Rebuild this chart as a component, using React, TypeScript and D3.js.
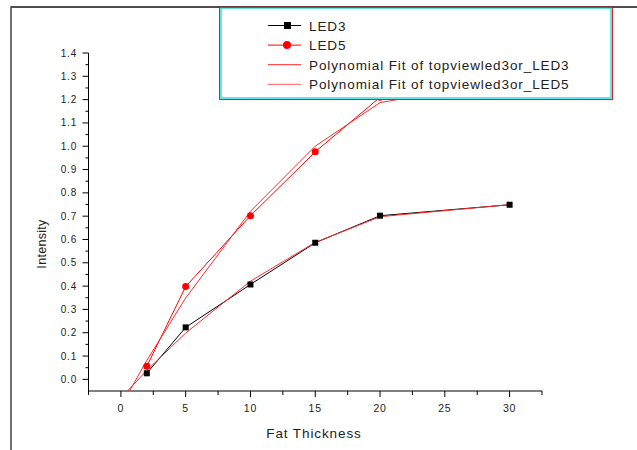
import React from 'react';
import * as d3 from 'd3';

// fat thickness (x) and measured intensities
const thickness = [2, 5, 10, 15, 20, 30];
const led3 = [0.026, 0.223, 0.407, 0.586, 0.702, 0.749];
const led5 = [0.056, 0.398, 0.702, 0.976, 1.21, 1.28];
// x positions where the fitted curve is evaluated (drawn as a polyline)
const fitX = [0, 2, 5, 10, 15, 20, 30];
const fitOrder = 2;

const xTicks = [0, 5, 10, 15, 20, 25, 30];
const yTicks = [0, 0.1, 0.2, 0.3, 0.4, 0.5, 0.6, 0.7, 0.8, 0.9, 1.0, 1.1, 1.2, 1.3, 1.4];

const legendLabels = ['LED3', 'LED5', 'Polynomial Fit of topviewled3or_LED3', 'Polynomial Fit of topviewled3or_LED5'];

const FONT = "Arial, 'Liberation Sans', sans-serif";

// least squares polynomial, returns coefficients [a0, a1, a2...]
function polyFit(xs: number[], ys: number[], order: number): number[] {
  const n = order + 1;
  const m: number[][] = [];
  for (let r = 0; r < n; r++) {
    const row: number[] = [];
    for (let c = 0; c < n; c++) row.push(d3.sum(xs, x => Math.pow(x, r + c)));
    row.push(d3.sum(xs, (x, i) => ys[i] * Math.pow(x, r)));
    m.push(row);
  }
  for (let i = 0; i < n; i++) {
    let p = i;
    for (let k = i + 1; k < n; k++) if (Math.abs(m[k][i]) > Math.abs(m[p][i])) p = k;
    [m[i], m[p]] = [m[p], m[i]];
    for (let k = i + 1; k < n; k++) {
      const f = m[k][i] / m[i][i];
      for (let c = i; c <= n; c++) m[k][c] -= f * m[i][c];
    }
  }
  const coef = new Array(n).fill(0);
  for (let i = n - 1; i >= 0; i--) {
    let s = m[i][n];
    for (let c = i + 1; c < n; c++) s -= m[i][c] * coef[c];
    coef[i] = s / m[i][i];
  }
  return coef;
}

const polyVal = (c: number[], v: number) => c.reduce((acc, k, i) => acc + k * Math.pow(v, i), 0);

export default class App extends React.Component {
  svgRef = React.createRef<SVGSVGElement>();

  componentDidMount() {
    const svg = d3.select(this.svgRef.current);

    const x = d3.scaleLinear().domain([-2.5, 32.5]).range([88.5, 542]);
    const y = d3.scaleLinear().domain([-0.05, 1.4]).range([391, 53]);

    svg.append('rect').attr('width', 637).attr('height', 450).attr('fill', '#fff');

    // page frame
    svg.append('path')
      .attr('d', 'M11,450 V7 H637')
      .attr('fill', 'none')
      .attr('stroke', '#444')
      .attr('stroke-width', 1.5);

    svg.append('defs').append('clipPath').attr('id', 'plotClip')
      .append('rect')
      .attr('x', x.range()[0]).attr('y', y.range()[1])
      .attr('width', x.range()[1] - x.range()[0])
      .attr('height', y.range()[0] - y.range()[1]);

    // axes
    const axisG = svg.append('g').attr('stroke', '#000').attr('stroke-width', 1);
    axisG.append('line')
      .attr('x1', x.range()[0]).attr('x2', x.range()[1])
      .attr('y1', y.range()[0]).attr('y2', y.range()[0]);
    axisG.append('line')
      .attr('x1', x.range()[0]).attr('x2', x.range()[0])
      .attr('y1', y.range()[0]).attr('y2', y.range()[1]);

    const xMinor = xTicks.map(t => t - 2.5).concat([32.5]);
    axisG.selectAll('.xmaj').data(xTicks).enter().append('line')
      .attr('x1', d => x(d)).attr('x2', d => x(d))
      .attr('y1', y.range()[0]).attr('y2', y.range()[0] + 6);
    axisG.selectAll('.xmin').data(xMinor).enter().append('line')
      .attr('x1', d => x(d)).attr('x2', d => x(d))
      .attr('y1', y.range()[0]).attr('y2', y.range()[0] + 4);

    const yMinor = yTicks.slice(0, -1).map(t => t + 0.05);
    axisG.selectAll('.ymaj').data(yTicks).enter().append('line')
      .attr('x1', x.range()[0]).attr('x2', x.range()[0] - 6)
      .attr('y1', d => y(d)).attr('y2', d => y(d));
    axisG.selectAll('.ymin').data(yMinor).enter().append('line')
      .attr('x1', x.range()[0]).attr('x2', x.range()[0] - 3)
      .attr('y1', d => y(d)).attr('y2', d => y(d));

    svg.selectAll('.xlab').data(xTicks).enter().append('text')
      .attr('x', d => x(d)).attr('y', 412)
      .attr('text-anchor', 'middle')
      .attr('font-family', FONT).attr('font-size', 10.5).attr('letter-spacing', 0.8)
      .attr('fill', '#222')
      .text(d => d);

    svg.selectAll('.ylab').data(yTicks).enter().append('text')
      .attr('x', 77).attr('y', d => y(d) + 3.5)
      .attr('text-anchor', 'end')
      .attr('font-family', FONT).attr('font-size', 10).attr('letter-spacing', 0.8)
      .attr('fill', '#222')
      .text(d => d3.format('.1f')(d));

    svg.append('text')
      .attr('x', 314).attr('y', 438)
      .attr('text-anchor', 'middle')
      .attr('font-family', FONT).attr('font-size', 13.5).attr('letter-spacing', 0.9)
      .attr('fill', '#222')
      .text('Fat Thickness');

    svg.append('text')
      .attr('transform', 'translate(46,244) rotate(-90)')
      .attr('text-anchor', 'middle')
      .attr('font-family', FONT).attr('font-size', 12.5).attr('letter-spacing', 0.3)
      .attr('fill', '#222')
      .text('Intensity');

    // data + fits
    const plot = svg.append('g').attr('clip-path', 'url(#plotClip)');
    const line = d3.line<number>().x((d, i) => x(thickness[i])).y(d => y(d));

    plot.append('path').datum(led3).attr('d', line)
      .attr('fill', 'none').attr('stroke', '#000').attr('stroke-width', 1);
    plot.append('path').datum(led5).attr('d', line)
      .attr('fill', 'none').attr('stroke', '#f00').attr('stroke-width', 1);

    const fitLine = d3.line<[number, number]>().x(d => x(d[0])).y(d => y(d[1]));
    [led3, led5].forEach(series => {
      const c = polyFit(thickness, series, fitOrder);
      const pts = fitX.map(v => [v, polyVal(c, v)] as [number, number]);
      plot.append('path').datum(pts).attr('d', fitLine)
        .attr('fill', 'none').attr('stroke', '#ff2a2a').attr('stroke-width', 1);
    });

    plot.selectAll('.sq').data(led3).enter().append('rect')
      .attr('x', (d, i) => x(thickness[i]) - 3).attr('y', d => y(d) - 3)
      .attr('width', 6).attr('height', 6).attr('fill', '#000');
    plot.selectAll('.dot').data(led5).enter().append('circle')
      .attr('cx', (d, i) => x(thickness[i])).attr('cy', d => y(d))
      .attr('r', 3.5).attr('fill', '#f00');

    // legend
    const lg = svg.append('g');
    lg.append('rect').attr('x', 219.5).attr('y', 6.5).attr('width', 393).attr('height', 93)
      .attr('fill', '#fff').attr('stroke', '#e02020').attr('stroke-width', 1);
    lg.append('rect').attr('x', 221).attr('y', 8).attr('width', 390).attr('height', 90)
      .attr('fill', 'none').attr('stroke', '#2ee0e0').attr('stroke-width', 1.5);
    svg.append('line').attr('x1', 11).attr('x2', 637).attr('y1', 7).attr('y2', 7)
      .attr('stroke', '#444').attr('stroke-width', 1.5);

    const rowY = (i: number) => 25.5 + i * 19.6;
    const strokes = ['#000', '#f00', '#ff2a2a', '#ff5a5a'];
    legendLabels.forEach((label, i) => {
      lg.append('line').attr('x1', 268).attr('x2', 301).attr('y1', rowY(i)).attr('y2', rowY(i))
        .attr('stroke', strokes[i]).attr('stroke-width', 1);
      if (i === 0) {
        lg.append('rect').attr('x', 284).attr('y', rowY(i) - 3.5).attr('width', 7).attr('height', 7).attr('fill', '#000');
      }
      if (i === 1) {
        lg.append('circle').attr('cx', 287).attr('cy', rowY(i)).attr('r', 4).attr('fill', '#f00');
      }
      lg.append('text')
        .attr('x', 309).attr('y', rowY(i) + 5)
        .attr('font-family', FONT).attr('font-size', 13.5).attr('letter-spacing', 0.9)
        .attr('fill', '#222')
        .text(label);
    });
  }

  render() {
    return (
      <div>
        <svg ref={this.svgRef} width={637} height={450} style={{ position: 'absolute', left: 0, top: 0 }} />
      </div>
    );
  }
}
